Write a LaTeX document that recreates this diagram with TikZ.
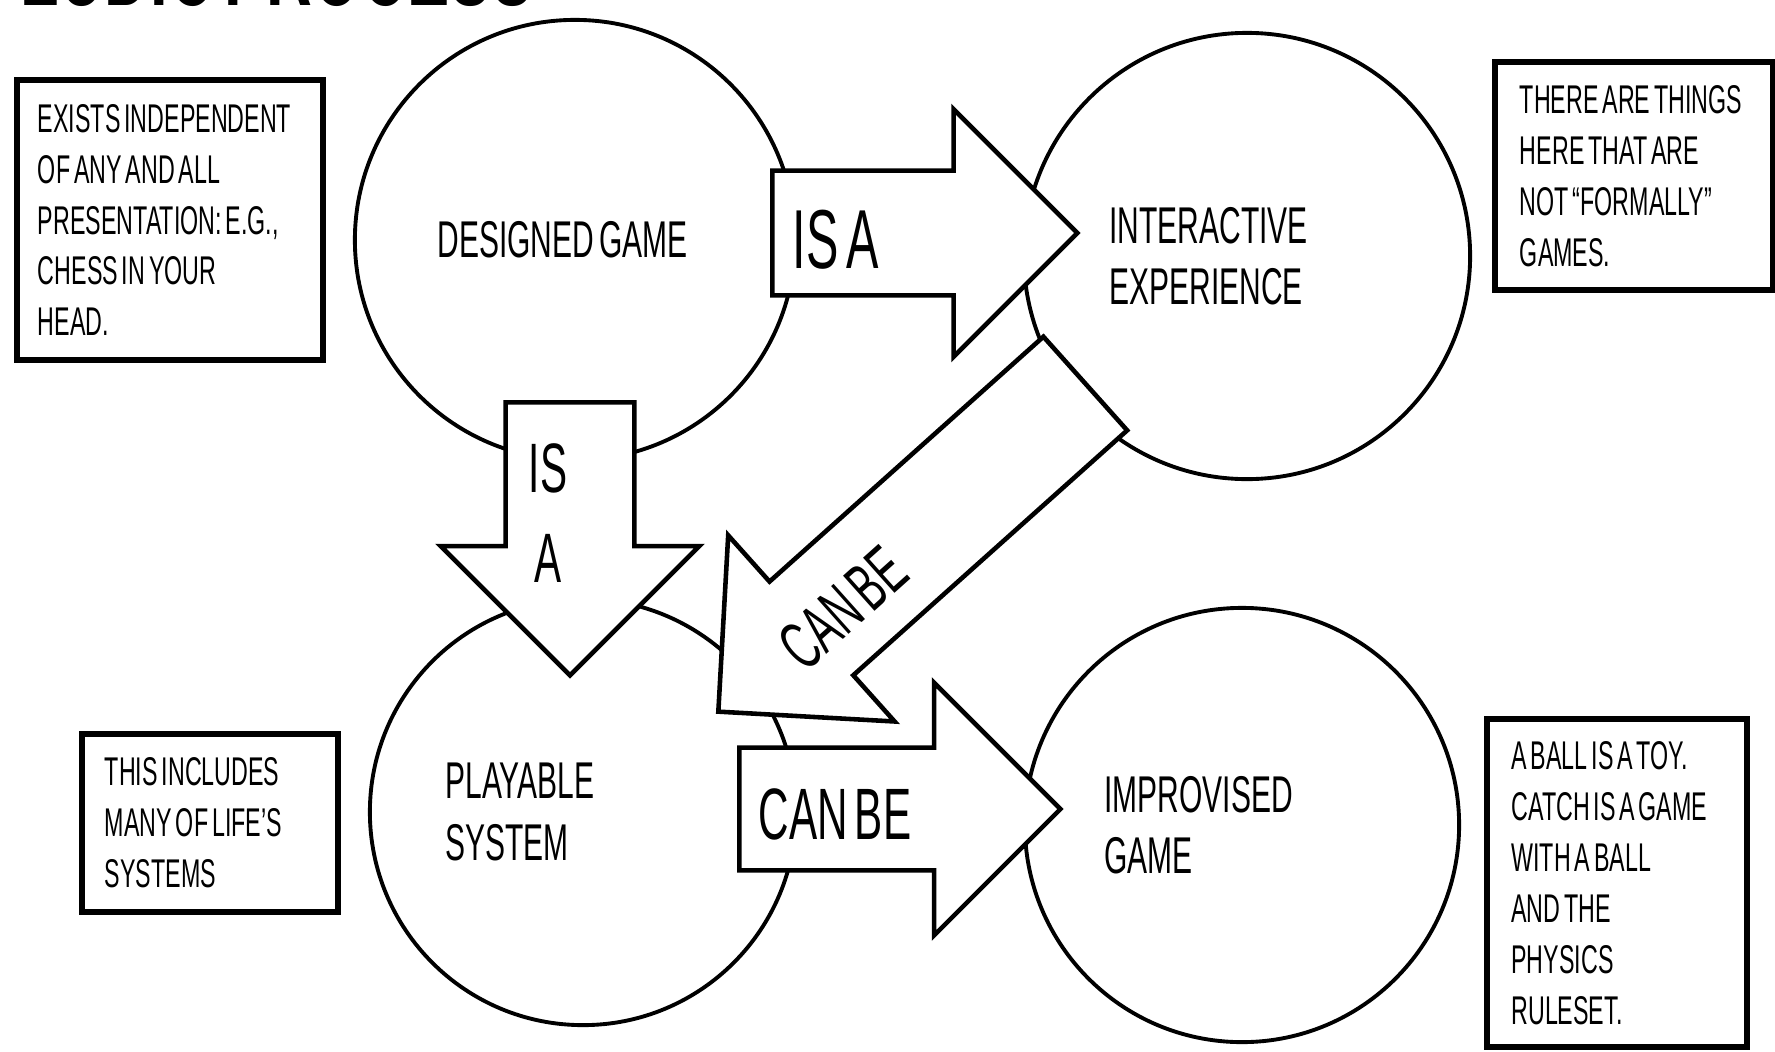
\documentclass[tikz,border=0pt]{standalone}
\usepackage{fontspec}
\setmainfont{Liberation Sans}[FakeStretch=0.58, WordSpace=0.6]
\usetikzlibrary{shapes.arrows}

\begin{document}
\begin{tikzpicture}[x=0.01cm, y=-0.01cm,
    stage/.style={draw, circle, line width=1.1pt, text width=2.75cm, align=flush left,
        font=\fontsize{14.7pt}{17.5pt}\selectfont},
    note/.style={draw, line width=1.7pt, align=flush left, inner ysep=0pt,
        font=\fontsize{11.4pt}{14.5pt}\selectfont},
    bigarrow/.style={draw, fill=white, single arrow, line width=1.3pt, inner xsep=0pt, inner ysep=0.6cm},
    arrowtext/.style={inner sep=0pt, font=\fontsize{20.7pt}{25.6pt}\selectfont}]
    \clip (0,0) rectangle (1775,1051);
    \node[anchor=base west, inner sep=0pt, font=\fontsize{31pt}{31pt}\selectfont\bfseries] (title) at (20,5) {LUDIC PROCESS};
    % the four circles
    \node[stage, minimum size=4.4cm] (dg) at (575,240) {DESIGNED GAME};
    \node[stage, minimum size=4.46cm] (ie) at (1247,256) {INTERACTIVE\\EXPERIENCE};
    \node[stage, minimum size=4.26cm] (ps) at (583,812) {PLAYABLE\\SYSTEM};
    \node[stage, minimum size=4.34cm] (ig) at (1242,825) {IMPROVISED\\GAME};
    % side notes
    \node[note, minimum width=3.06cm, minimum height=2.8cm, text width=2.64cm, inner xsep=0.21cm] (notedg) at (170,220)
        {EXISTS INDEPENDENT\\OF ANY AND ALL\\PRESENTATION: E.G.,\\CHESS IN YOUR\\HEAD.};
    \node[note, minimum width=2.78cm, minimum height=2.27cm, text width=2.28cm, inner xsep=0.25cm] (noteie) at (1634,176)
        {THERE ARE THINGS\\HERE THAT ARE\\NOT ``FORMALLY''\\GAMES.};
    \node[note, minimum width=2.56cm, minimum height=1.77cm, text width=2.1cm, inner xsep=0.23cm] (noteps) at (210,823)
        {THIS INCLUDES\\MANY OF LIFE'S\\SYSTEMS};
    \node[note, minimum width=2.59cm, minimum height=3.27cm, text width=2.11cm, inner xsep=0.24cm] (noteig) at (1617,883)
        {A BALL IS A TOY.\\CATCH IS A GAME\\WITH A BALL\\AND THE\\PHYSICS\\RULESET.};
    % block arrows
    \node[bigarrow, anchor=tail, minimum height=3.05cm, minimum width=2.43cm,
        inner ysep=0.6cm, single arrow head extend=0.615cm] (isaright) at (770,233) {};
    \node[bigarrow, anchor=tail, rotate=-90, minimum height=2.73cm, minimum width=2.54cm,
        inner ysep=0.62cm, single arrow head extend=0.65cm] (isadown) at (570,400) {};
    \node[bigarrow, anchor=tail, rotate=221.8, minimum height=4.92cm, minimum width=2.45cm,
        inner ysep=0.605cm, single arrow head extend=0.62cm] (canbediag) at (1087,382) {};
    \node[bigarrow, anchor=tail, minimum height=3.21cm, minimum width=2.48cm,
        inner ysep=0.59cm, single arrow head extend=0.65cm] (canberight) at (737,809) {};
    % arrow labels
    \node[arrowtext, anchor=west, font=\fontsize{23.8pt}{25.6pt}\selectfont] (isarighttext) at (792,240) {IS A};
    \node[arrowtext, align=center, font=\fontsize{19.9pt}{25.6pt}\selectfont] (isadowntext) at (548,513) {IS\\A};
    \node[arrowtext, rotate=41.8, font=\fontsize{19.5pt}{25.6pt}\selectfont] (canbediagtext) at (843,608) {CAN BE};
    \node[arrowtext, anchor=west] (canberighttext) at (758,814) {CAN BE};
\end{tikzpicture}
\end{document}
